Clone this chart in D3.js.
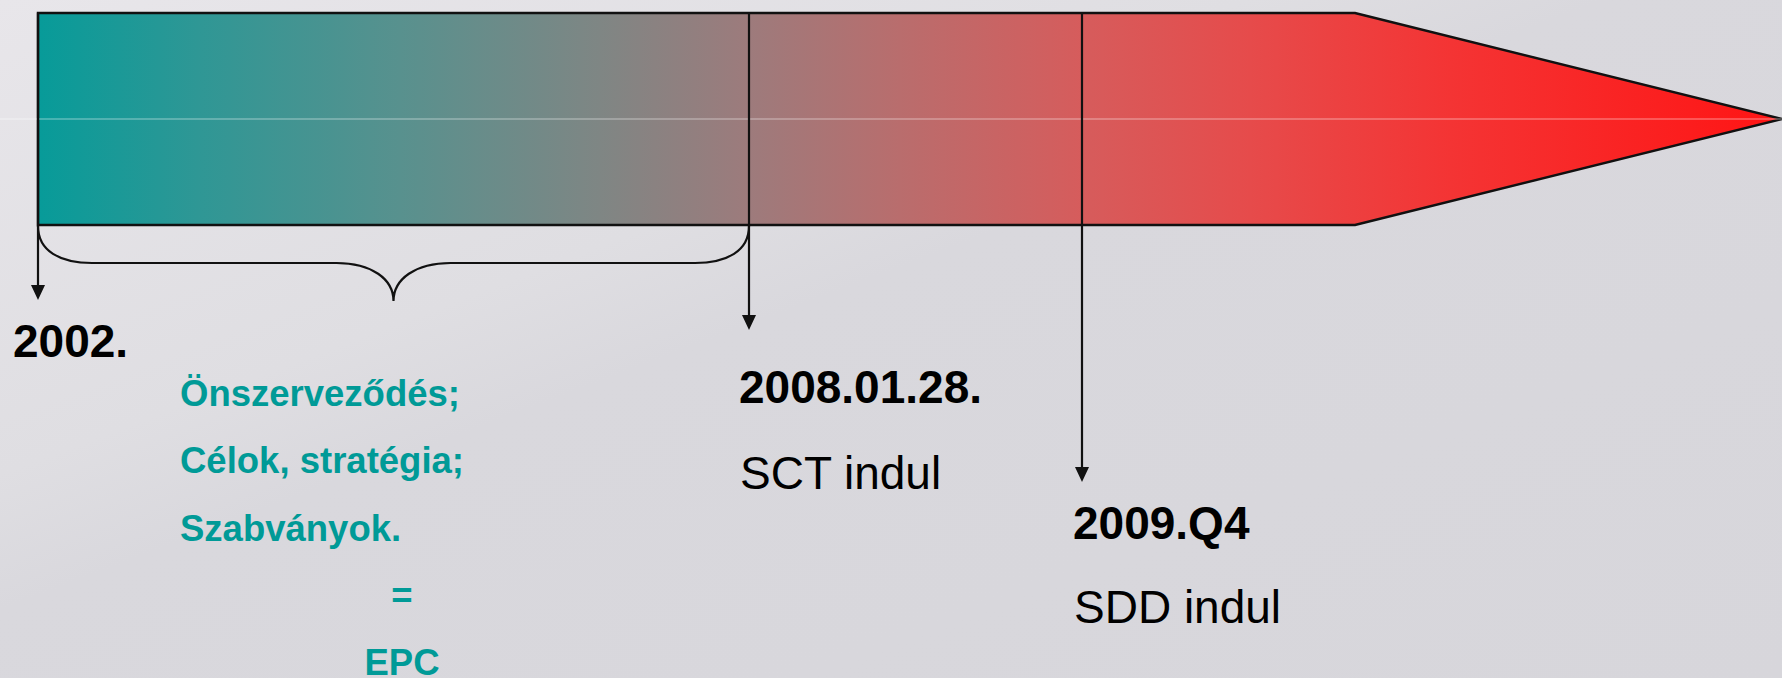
<!DOCTYPE html>
<html>
<head>
<meta charset="utf-8">
<script src="https://cdn.jsdelivr.net/npm/d3@7"></script>
<style>
  html, body { margin: 0; padding: 0; overflow: hidden; }
  svg { display: block; }
</style>
</head>
<body>
<div id="chart"></div>
<script>
// Idővonal adatai
const eventDates = ["2002-01-01", "2008-01-28", "2009-10-01"];
const eventLabels = ["2002.", "2008.01.28.", "2009.Q4"];
const eventNotes = ["", "SCT indul", "SDD indul"];
const phaseLines = ["Önszerveződés;", "Célok, stratégia;", "Szabványok."];
const phaseResult = ["=", "EPC"];

const width = 1782;
const height = 678;
const fontFamily = "'Liberation Sans', Arial, Helvetica, sans-serif";
const teal = "#009a97";

// Sáv geometria
const bar = { top: 13, bottom: 225, end: 1355, tip: 1782 };
const midY = (bar.top + bar.bottom) / 2;

// Eseményenkénti elrendezés (nyílhegy, felirat)
const arrowEnds = [300, 330, 482];
const labelDx = [-25, -10, -9];
const labelY = [357, 403, 539];
const noteY = [0, 489, 623];

const parse = d3.timeParse("%Y-%m-%d");
const dates = eventDates.map(parse);

// Darabonként lineáris időskála, a sáv bal szélétől a jelölővonalakig
const xScale = d3.scaleTime()
  .domain(dates)
  .range([38, 749, 1082]);

const svg = d3.select("#chart")
  .append("svg")
  .attr("width", width)
  .attr("height", height);

const defs = svg.append("defs");

// háttér
const bg = defs.append("linearGradient")
  .attr("id", "bg")
  .attr("x1", "0").attr("y1", "0")
  .attr("x2", "1").attr("y2", "1");
bg.append("stop").attr("offset", "0%").attr("stop-color", "#e8e6ea");
bg.append("stop").attr("offset", "35%").attr("stop-color", "#dfdee2");
bg.append("stop").attr("offset", "45%").attr("stop-color", "#d9d8dd");
bg.append("stop").attr("offset", "100%").attr("stop-color", "#d7d6db");

svg.append("rect")
  .attr("width", width)
  .attr("height", height)
  .attr("fill", "url(#bg)");

// sáv színátmenete, teal -> szürke -> piros
const gradStops = [
  [38, "#079b99"], [200, "#2f9795"], [400, "#58918e"], [600, "#7f8684"],
  [749, "#9d7b7c"], [900, "#b96d6d"], [1082, "#d65c5c"], [1250, "#e64b4b"],
  [1450, "#f43434"], [1782, "#ff1414"]
];
const grad = defs.append("linearGradient")
  .attr("id", "barGrad")
  .attr("gradientUnits", "userSpaceOnUse")
  .attr("x1", 38).attr("y1", 0)
  .attr("x2", bar.tip).attr("y2", 0);
grad.selectAll("stop")
  .data(gradStops)
  .join("stop")
  .attr("offset", d => ((d[0] - 38) / (bar.tip - 38) * 100) + "%")
  .attr("stop-color", d => d[1]);

const x0 = xScale(dates[0]);
const barPath = d3.path();
barPath.moveTo(x0, bar.top);
barPath.lineTo(bar.end, bar.top);
barPath.lineTo(bar.tip, midY);
barPath.lineTo(bar.end, bar.bottom);
barPath.lineTo(x0, bar.bottom);
barPath.closePath();

svg.append("path")
  .attr("d", barPath.toString())
  .attr("fill", "url(#barGrad)")
  .attr("stroke", "#111")
  .attr("stroke-width", 2.5)
  .attr("stroke-linejoin", "miter");

// halvány vízszintes vonal a dián
svg.append("line")
  .attr("x1", 0).attr("x2", bar.tip)
  .attr("y1", midY).attr("y2", midY)
  .attr("stroke", "#ffffff")
  .attr("stroke-opacity", 0.5)
  .attr("stroke-width", 1);

// kapcsos zárójel az első két esemény között
const bx0 = xScale(dates[0]);
const bx1 = xScale(dates[1]);
const bMid = (bx0 + bx1) / 2;
const bY = 263;
const bTip = 301;
const brace = d3.path();
brace.moveTo(bx0, bar.bottom + 1);
brace.bezierCurveTo(bx0, bY - 12, bx0 + 22, bY, bx0 + 54, bY);
brace.lineTo(bMid - 57, bY);
brace.bezierCurveTo(bMid - 22, bY, bMid, bY + 16, bMid, bTip);
brace.moveTo(bMid, bTip);
brace.bezierCurveTo(bMid, bY + 16, bMid + 22, bY, bMid + 57, bY);
brace.lineTo(bx1 - 54, bY);
brace.bezierCurveTo(bx1 - 22, bY, bx1, bY - 12, bx1, bar.bottom + 1);

svg.append("path")
  .attr("d", brace.toString())
  .attr("fill", "none")
  .attr("stroke", "#111")
  .attr("stroke-width", 2.2);

// esemény vonalak + nyilak
const events = svg.append("g").selectAll("g")
  .data(dates)
  .join("g");

events.append("line")
  .attr("x1", d => xScale(d))
  .attr("x2", d => xScale(d))
  .attr("y1", bar.top)
  .attr("y2", (d, i) => arrowEnds[i] - 14)
  .attr("stroke", "#111")
  .attr("stroke-width", 2.2);

events.append("path")
  .attr("d", (d, i) => {
    const x = xScale(d), y = arrowEnds[i];
    return "M" + (x - 7) + "," + (y - 15) + "L" + (x + 7) + "," + (y - 15) + "L" + x + "," + y + "Z";
  })
  .attr("fill", "#111");

events.append("text")
  .attr("x", (d, i) => xScale(d) + labelDx[i])
  .attr("y", (d, i) => labelY[i])
  .attr("font-family", fontFamily)
  .attr("font-size", 46)
  .attr("font-weight", "bold")
  .attr("fill", "#000")
  .text((d, i) => eventLabels[i]);

events.filter((d, i) => eventNotes[i] !== "")
  .append("text")
  .attr("x", d => xScale(d) + labelDx[dates.indexOf(d)] + 1)
  .attr("y", d => noteY[dates.indexOf(d)])
  .attr("font-family", fontFamily)
  .attr("font-size", 46)
  .attr("fill", "#000")
  .text(d => eventNotes[dates.indexOf(d)]);

// első szakasz leírása
const lineGap = 67.3;
svg.append("g").selectAll("text")
  .data(phaseLines)
  .join("text")
  .attr("x", 180)
  .attr("y", (d, i) => 406 + i * lineGap)
  .attr("font-family", fontFamily)
  .attr("font-size", 36.5)
  .attr("font-weight", "bold")
  .attr("fill", teal)
  .text(d => d);

svg.append("g").selectAll("text")
  .data(phaseResult)
  .join("text")
  .attr("x", 402)
  .attr("y", (d, i) => 406 + (phaseLines.length + i) * lineGap)
  .attr("text-anchor", "middle")
  .attr("font-family", fontFamily)
  .attr("font-size", 36.5)
  .attr("font-weight", "bold")
  .attr("fill", teal)
  .text(d => d);
</script>
</body>
</html>
